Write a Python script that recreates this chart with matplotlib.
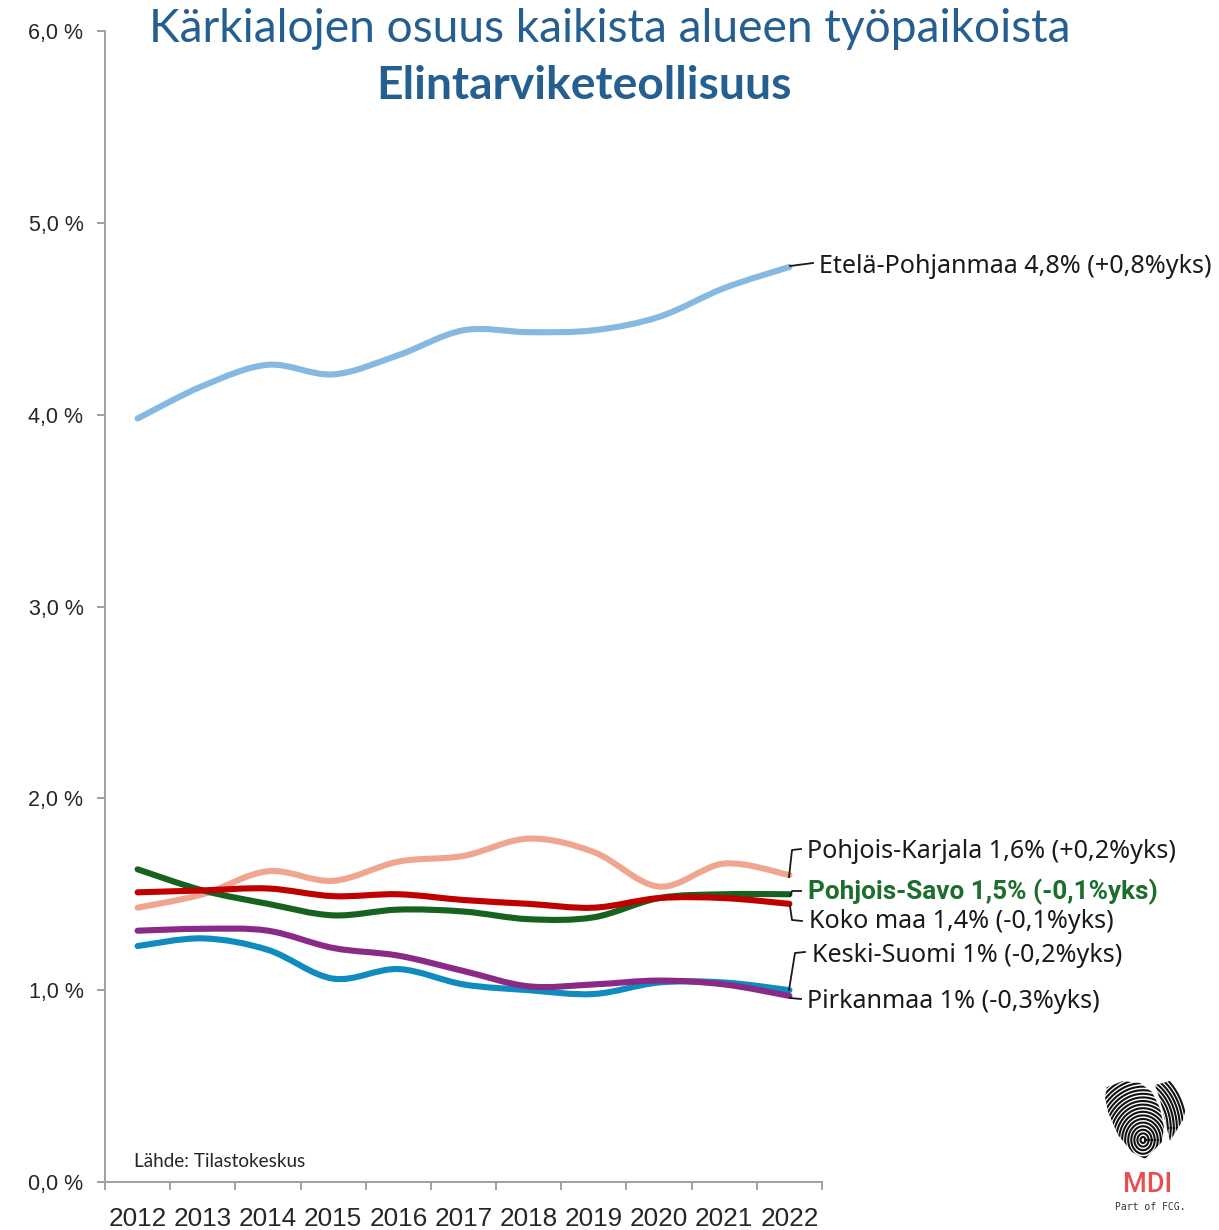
# Coding: utf-8

"""Kärkialojen osuus alueen työpaikoista, elintarviketeollisuus"""

import matplotlib
matplotlib.use('Agg')
import matplotlib.pyplot as plt
import numpy as np
from matplotlib.patches import PathPatch, Polygon
from matplotlib.path import Path

years = [2012, 2013, 2014, 2015, 2016, 2017, 2018, 2019, 2020, 2021, 2022]
y_ticks = [0, 1, 2, 3, 4, 5, 6]
y_labels = ['0,0 %', '1,0 %', '2,0 %', '3,0 %', '4,0 %', '5,0 %', '6,0 %']

etela_pohjanmaa = [3.98, 4.15, 4.26, 4.21, 4.31, 4.44, 4.43, 4.44, 4.51, 4.66, 4.77]
pohjois_karjala = [1.43, 1.50, 1.62, 1.57, 1.67, 1.70, 1.79, 1.72, 1.54, 1.66, 1.60]
pohjois_savo = [1.63, 1.52, 1.45, 1.39, 1.42, 1.41, 1.37, 1.38, 1.48, 1.50, 1.50]
koko_maa = [1.51, 1.52, 1.53, 1.49, 1.50, 1.47, 1.45, 1.43, 1.48, 1.48, 1.45]
keski_suomi = [1.23, 1.27, 1.21, 1.06, 1.11, 1.03, 1.00, 0.98, 1.04, 1.04, 1.00]
pirkanmaa = [1.31, 1.32, 1.31, 1.22, 1.18, 1.10, 1.02, 1.03, 1.05, 1.03, 0.97]

W, H = 1219, 1230
BODY_FONT = 'Noto Sans'
TITLE_FONT = 'Lato'


def smooth_path(xs, ys):
    """Excel style smoothed line as bezier segments through the points."""
    pts = np.column_stack([xs, ys])
    verts = [pts[0]]
    codes = [Path.MOVETO]
    for i in range(len(pts) - 1):
        p0 = pts[max(i - 1, 0)]
        p1 = pts[i]
        p2 = pts[i + 1]
        p3 = pts[min(i + 2, len(pts) - 1)]
        verts += [p1 + (p2 - p0) / 6, p2 - (p3 - p1) / 6, p2]
        codes += [Path.CURVE4, Path.CURVE4, Path.CURVE4]
    return Path(verts, codes)


fig = plt.figure(figsize=(W / 100, H / 100), dpi=100, facecolor='white')
ax = fig.add_axes([105 / W, (H - 1182) / H, 717 / W, 1151 / H])

x = np.arange(len(years)) + 0.5
series = [
    (etela_pohjanmaa, '#85B9E2'),
    (pohjois_karjala, '#F0A58F'),
    (pohjois_savo, '#17621E'),
    (koko_maa, '#C00000'),
    (keski_suomi, '#0F8BBF'),
    (pirkanmaa, '#8A2A87'),
]
for values, color in series:
    ax.add_patch(PathPatch(smooth_path(x, values), fill=False, edgecolor=color,
                           linewidth=4.4, capstyle='round', joinstyle='round'))

ax.set_xlim(0, len(years))
ax.set_ylim(0, 6)
ax.set_yticks(y_ticks)
ax.set_yticklabels(y_labels, fontname='Liberation Sans', fontsize=15.5, color='#262626')
ax.set_xticks(np.arange(len(years) + 1))
ax.set_xticklabels([])
ax.set_xticks(x, minor=True)
ax.set_xticklabels(years, minor=True, fontname='Liberation Sans', fontsize=18.8, color='#262626')
ax.tick_params(axis='x', which='major', length=6, width=1.4, color='#A0A0A0')
ax.tick_params(axis='x', which='minor', length=0, pad=18.3)
ax.tick_params(axis='y', length=6, width=1.4, color='#A0A0A0', pad=9.5)
for side in ['top', 'right']:
    ax.spines[side].set_visible(False)
for side in ['left', 'bottom']:
    ax.spines[side].set_color('#A0A0A0')
    ax.spines[side].set_linewidth(1.4)

# overlay in picture pixels for titles, labels and the logo
over = fig.add_axes([0, 0, 1, 1], facecolor='none')
over.set_xlim(0, W)
over.set_ylim(H, 0)
over.axis('off')

over.text(610, 42, 'Kärkialojen osuus kaikista alueen työpaikoista', family=TITLE_FONT,
          fontsize=33.2, color='#255E91', ha='center', va='baseline')
over.text(584, 99, 'Elintarviketeollisuus', family=TITLE_FONT, fontsize=33.2,
          fontweight='bold', color='#255E91', ha='center', va='baseline')

labels = [
    ('Etelä-Pohjanmaa 4,8% (+0,8%yks)', 819, 273, '#1A1A1A', 'normal', BODY_FONT, 18.1),
    ('Pohjois-Karjala 1,6% (+0,2%yks)', 807, 858, '#1A1A1A', 'normal', BODY_FONT, 18.1),
    ('Pohjois-Savo 1,5% (-0,1%yks)', 808, 899, '#1B6E2C', 'bold', 'Roboto', 18.8),
    ('Koko maa 1,4% (-0,1%yks)', 809, 928, '#1A1A1A', 'normal', BODY_FONT, 18.1),
    ('Keski-Suomi 1% (-0,2%yks)', 812, 962, '#1A1A1A', 'normal', BODY_FONT, 18.1),
    ('Pirkanmaa 1% (-0,3%yks)', 807, 1008, '#1A1A1A', 'normal', BODY_FONT, 18.1),
]
for text, tx, ty, color, weight, font, size in labels:
    over.text(tx, ty, text, family=font, fontsize=size, color=color,
              fontweight=weight, ha='left', va='baseline')

leaders = [
    ([790, 813], [266, 263]),
    ([789, 792, 801], [877, 850, 849]),
    ([790, 792, 801], [896, 891, 891]),
    ([790, 792, 802], [906, 920, 921]),
    ([789, 795, 805], [990, 953, 952]),
    ([790, 801], [998, 999]),
]
for lx, ly in leaders:
    over.plot(lx, ly, color='#1A1A1A', linewidth=1.3, solid_joinstyle='round')

over.text(134, 1167, 'Lähde: Tilastokeskus', family=TITLE_FONT, fontsize=13.6,
          color='#262626', ha='left', va='baseline')

# logo: fingerprint heart, rings clipped to the two lobes
left_lobe = [(1107, 1087), (1123, 1081), (1140, 1083), (1152, 1092), (1160, 1108), (1164, 1127),
             (1162, 1142), (1145, 1159), (1132, 1152), (1118, 1135), (1108, 1112), (1105, 1097)]
right_lobe = [(1155, 1085), (1173, 1080), (1186, 1086), (1188, 1100), (1183, 1120), (1170, 1141),
              (1166, 1125), (1160, 1100)]
ring_angles = np.linspace(0, 2 * np.pi, 240)
for lobe, cx, cy, r_start, r_end in [(left_lobe, 1143, 1140, 3, 72), (right_lobe, 1132, 1128, 24, 66)]:
    clip = Polygon(lobe, closed=True, facecolor='none', edgecolor='none')
    over.add_patch(clip)
    for r in np.arange(r_start, r_end, 3.6):
        ring, = over.plot(cx + 0.85 * r * np.cos(ring_angles), cy + r * np.sin(ring_angles),
                          color='#111111', linewidth=1.5)
        ring.set_clip_path(clip)
over.set_xlim(0, W)
over.set_ylim(H, 0)

over.text(1148, 1192, 'MDI', family='Roboto', fontweight='medium', fontsize=19.5, color='#E8504F',
          ha='center', va='baseline')
over.text(1150, 1210, 'Part of FCG.', family='DejaVu Sans Mono', fontsize=7,
          color='#333333', ha='center', va='baseline')

fig.savefig('out.png', dpi=100)
